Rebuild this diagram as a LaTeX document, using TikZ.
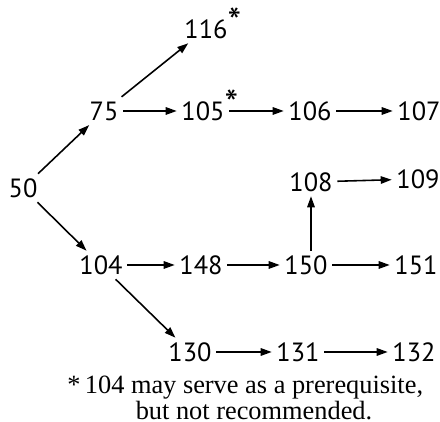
\documentclass[tikz,border=0pt]{standalone}
\usepackage{fontspec}
\newfontfamily\numfont{PT Sans}
\newfontfamily\notefont{Liberation Serif}
\usepackage{tikz}
\usetikzlibrary{arrows.meta, positioning}

\newcommand{\notestar}{\rlap{\smash{\raisebox{0.1em}{\fontsize{22}{22}\selectfont*}}}}

\begin{document}
\begin{tikzpicture}[
  crs/.style={inner sep=2.5pt, font=\numfont\fontsize{15}{18}\selectfont},
  req/.style={-{Triangle[length=2.2mm,width=1.5mm]}, line width=0.9pt},
]
  \useasboundingbox (0,0) rectangle (8.8,8.44);
  \node[crs] (n50) at (0.46,4.68) {50};
  \node[crs] (n75) at (2.08,6.22) {75};
  \node[crs] (n116) at (4.12,7.86) {116\notestar};
  \node[crs] (n105) at (4.06,6.22) {105\notestar};
  \node[crs] (n106) at (6.20,6.22) {106};
  \node[crs] (n107) at (8.38,6.22) {107};
  \node[crs] (n108) at (6.22,4.80) {108};
  \node[crs] (n109) at (8.36,4.86) {109};
  \node[crs] (n104) at (2.02,3.14) {104};
  \node[crs] (n148) at (4.02,3.14) {148};
  \node[crs] (n150) at (6.12,3.14) {150};
  \node[crs] (n151) at (8.32,3.14) {151};
  \node[crs] (n130) at (3.80,1.40) {130};
  \node[crs] (n131) at (5.96,1.40) {131};
  \node[crs] (n132) at (8.28,1.40) {132};
  % footnote
  \node[align=center, inner sep=0pt, anchor=north,
        font=\notefont\fontsize{15}{13}\selectfont]
    (note) at (5.08,0.92)
    {\llap{*\,}104 may serve as a prerequisite,\\ but not recommended.};
  \draw[req] (n50)--(n75);
  \draw[req] (n75)--(n116);
  \draw[req] (n75)--(n105);
  \draw[req] (n105)--(n106);
  \draw[req] (n106)--(n107);
  \draw[req] (n50)--(n104);
  \draw[req] (n104)--(n148);
  \draw[req] (n148)--(n150);
  \draw[req] (n150)--(n151);
  \draw[req] (n108 |- n150.north)--(n108.south);
  \draw[req] (n108)--(n109);
  \draw[req] (n104)--(n130);
  \draw[req] (n130)--(n131);
  \draw[req] (n131)--(n132);
\end{tikzpicture}
\end{document}
